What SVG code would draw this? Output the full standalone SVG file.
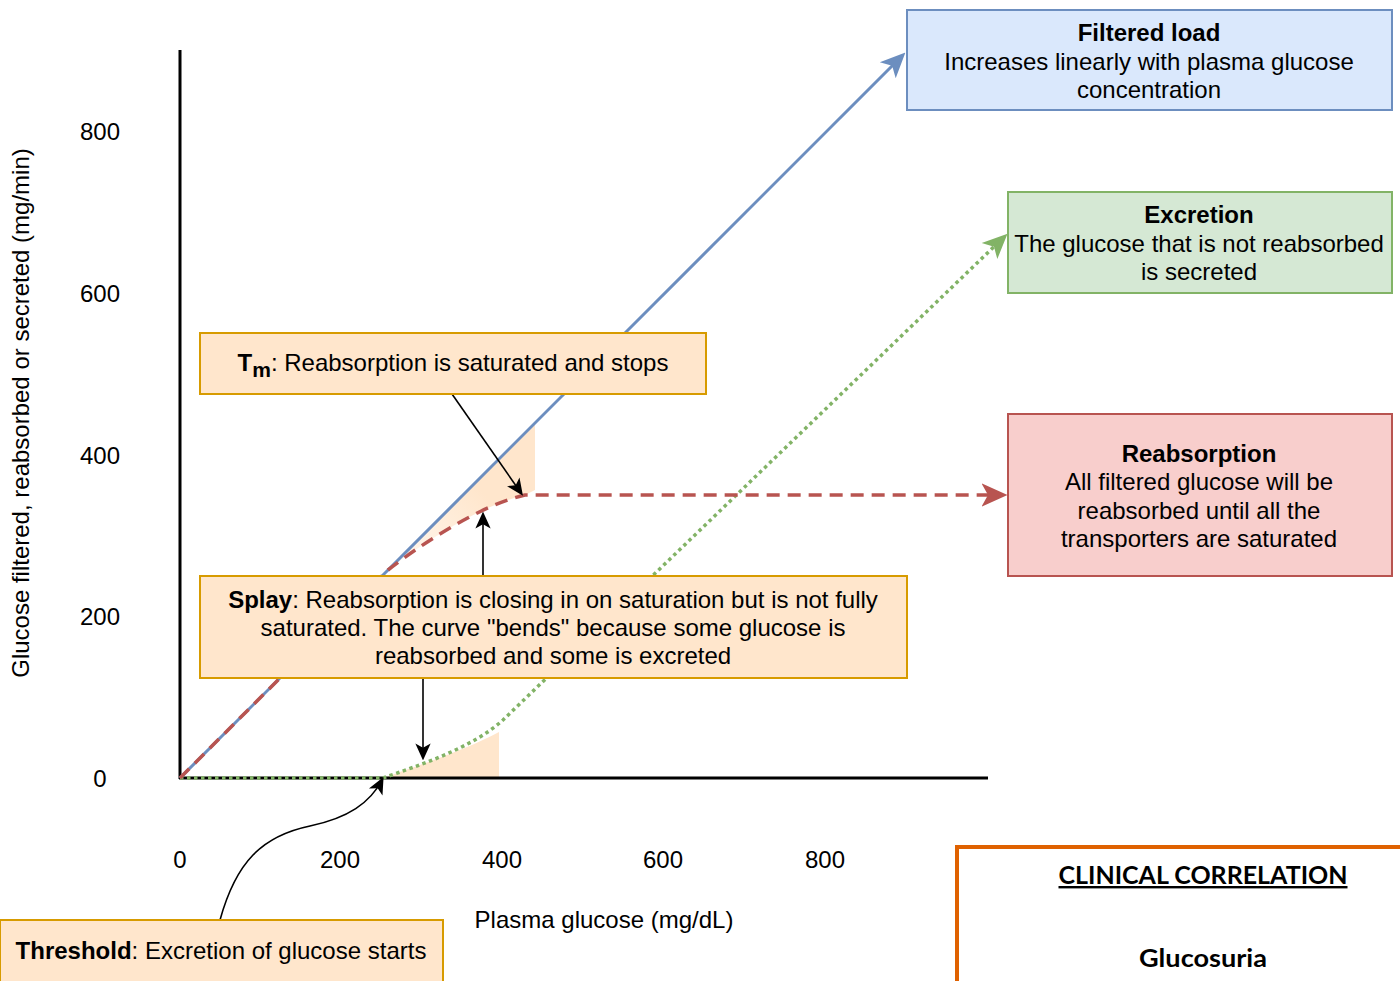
<svg xmlns="http://www.w3.org/2000/svg" width="1400" height="981" viewBox="0 0 1400 981">
<style>
text{font-family:"Liberation Sans",Arial,sans-serif;font-size:24px;fill:#000}
.c{text-anchor:middle}
.b{font-weight:bold}
.ax{fill:none;stroke:#000;stroke-width:3}
.ptr{fill:none;stroke:#000;stroke-width:1.6}
.orange{fill:#FFE6CC;stroke:#D79B00;stroke-width:2}
.cal{font-family:Lato,"Open Sans",sans-serif;font-weight:bold}
</style>
<defs>
<marker id="mBlue" viewBox="0 0 20 20" refX="15" refY="10" markerWidth="25" markerHeight="25" markerUnits="userSpaceOnUse" orient="auto"><path d="M0,1 L20,10 L0,19 L5,10 Z" fill="#6C8EBF"/></marker>
<marker id="mGreen" viewBox="0 0 20 20" refX="15" refY="10" markerWidth="25" markerHeight="25" markerUnits="userSpaceOnUse" orient="auto"><path d="M0,1 L20,10 L0,19 L5,10 Z" fill="#82B366"/></marker>
<marker id="mRed" viewBox="0 0 20 20" refX="15" refY="10" markerWidth="26" markerHeight="26" markerUnits="userSpaceOnUse" orient="auto"><path d="M0,1 L20,10 L0,19 L5,10 Z" fill="#B85450"/></marker>
<marker id="mBlk" viewBox="0 0 20 20" refX="16" refY="10" markerWidth="17" markerHeight="17" markerUnits="userSpaceOnUse" orient="auto"><path d="M0,1 L20,10 L0,19 L5,10 Z" fill="#000"/></marker>
<linearGradient id="gSplay" x1="0" y1="1" x2="1" y2="0"><stop offset="0" stop-color="#FFE6CC" stop-opacity="0.2"/><stop offset="0.6" stop-color="#FFE6CC" stop-opacity="1"/></linearGradient>
</defs>

<g id="shading">
<path d="M383,575 L535,423 L535,490 L525,495 C480,505 420,545 388,570 Z" fill="url(#gSplay)"/>
<path d="M383,778 C420,765 470,748 499,732 L499,778 Z" fill="#FFE6CC"/>
</g>

<g id="axes">
<line class="ax" x1="180" y1="50" x2="180" y2="779"/>
<line class="ax" x1="179" y1="778" x2="988" y2="778"/>
<g id="ticks">
<text class="c" x="100" y="140">800</text>
<text class="c" x="100" y="302">600</text>
<text class="c" x="100" y="464">400</text>
<text class="c" x="100" y="625">200</text>
<text class="c" x="100" y="787">0</text>
<text class="c" x="180" y="868">0</text>
<text class="c" x="340" y="868">200</text>
<text class="c" x="502" y="868">400</text>
<text class="c" x="663" y="868">600</text>
<text class="c" x="825" y="868">800</text>
</g>
<text class="c" x="604" y="928">Plasma glucose (mg/dL)</text>
<text class="c" transform="translate(29,413) rotate(-90)">Glucose filtered, reabsorbed or secreted (mg/min)</text>
</g>

<g id="connectors">
<path d="M180,778 L901,57" fill="none" stroke="#6C8EBF" stroke-width="3" marker-end="url(#mBlue)"/>
<path d="M180,778 L383,778 C420,765 472,748 503,720 L1003,238" fill="none" stroke="#82B366" stroke-width="3.5" stroke-dasharray="3.5 3.5" marker-end="url(#mGreen)"/>
<path d="M180,778 L388,570 C420,545 480,505 525,495 L1001,495" fill="none" stroke="#B85450" stroke-width="3.5" stroke-dasharray="13 8" marker-end="url(#mRed)"/>
<path class="ptr" d="M452,394 L521,493" marker-end="url(#mBlk)"/>
<path class="ptr" d="M483,576 L483,515" marker-end="url(#mBlk)"/>
<path class="ptr" d="M423,678 L423,757" marker-end="url(#mBlk)"/>
<path class="ptr" d="M220,920 C236,862 262,836 310,826 C348,818 370,803 382,780" marker-end="url(#mBlk)"/>
</g>

<g id="filtered-load">
<rect x="907" y="10" width="485" height="100" fill="#DAE8FC" stroke="#6C8EBF" stroke-width="2"/>
<text class="c b" x="1149" y="41">Filtered load</text>
<text class="c" x="1149" y="70">Increases linearly with plasma glucose</text>
<text class="c" x="1149" y="98">concentration</text>
</g>

<g id="excretion">
<rect x="1008" y="192" width="384" height="101" fill="#D5E8D4" stroke="#82B366" stroke-width="2"/>
<text class="c b" x="1199" y="223">Excretion</text>
<text class="c" x="1199" y="252">The glucose that is not reabsorbed</text>
<text class="c" x="1199" y="280">is secreted</text>
</g>

<g id="reabsorption">
<rect x="1008" y="414" width="384" height="162" fill="#F8CECC" stroke="#B85450" stroke-width="2"/>
<text class="c b" x="1199" y="462">Reabsorption</text>
<text class="c" x="1199" y="490">All filtered glucose will be</text>
<text class="c" x="1199" y="519">reabsorbed until all the</text>
<text class="c" x="1199" y="547">transporters are saturated</text>
</g>

<g id="tm">
<rect class="orange" x="200" y="333" width="506" height="61"/>
<text class="c" x="453" y="371"><tspan class="b">T</tspan><tspan class="b" dy="6" font-size="21">m</tspan><tspan dy="-6">: Reabsorption is saturated and stops</tspan></text>
</g>

<g id="splay">
<rect class="orange" x="200" y="576" width="707" height="102"/>
<text class="c" x="553" y="608"><tspan class="b">Splay</tspan>: Reabsorption is closing in on saturation but is not fully</text>
<text class="c" x="553" y="636">saturated. The curve "bends" because some glucose is</text>
<text class="c" x="553" y="664">reabsorbed and some is excreted</text>
</g>

<g id="threshold">
<rect class="orange" x="0" y="920" width="443" height="70"/>
<text class="c" x="221" y="959"><tspan class="b">Threshold</tspan>: Excretion of glucose starts</text>
</g>

<g id="clinical">
<rect x="957" y="847" width="460" height="150" fill="#FFFFFF" stroke="#DF6100" stroke-width="4"/>
<text class="c cal" x="1203" y="884" textLength="289" lengthAdjust="spacingAndGlyphs" text-decoration="underline">CLINICAL CORRELATION</text>
<text class="c cal" x="1203" y="967" textLength="128" lengthAdjust="spacingAndGlyphs">Glucosuria</text>
</g>
</svg>
